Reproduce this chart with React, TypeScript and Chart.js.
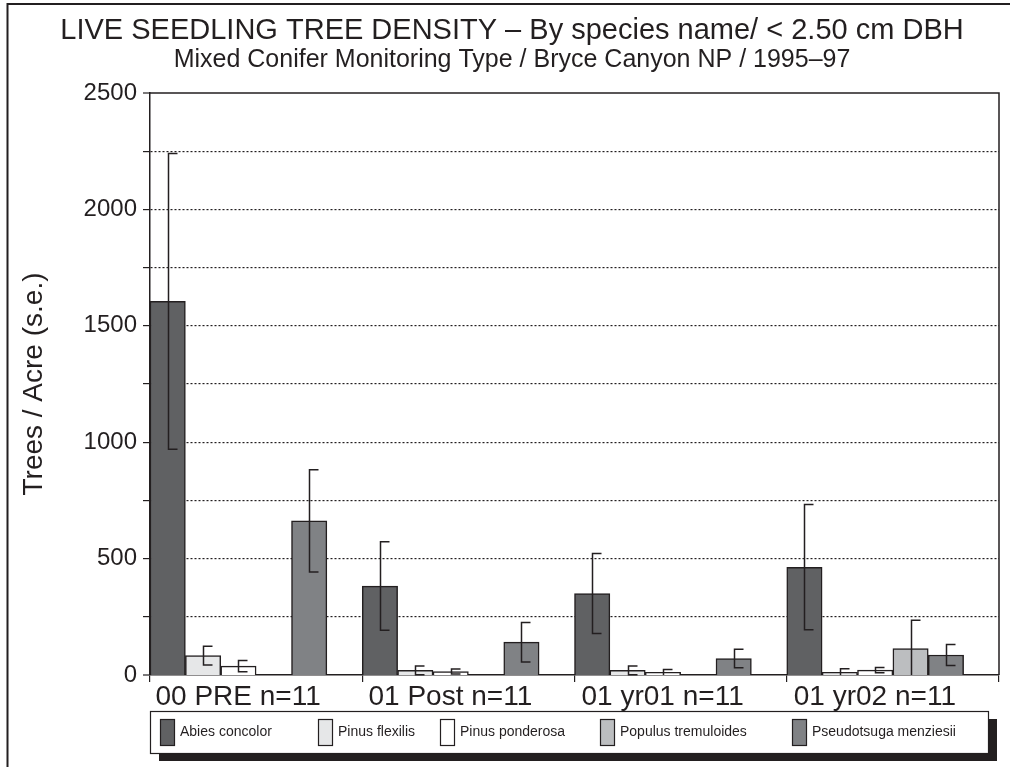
import React, { useEffect, useRef } from "react";
import { Chart, registerables } from "chart.js";

Chart.register(...registerables);

// ---------- data ----------
const categories = ["00 PRE n=11", "01 Post n=11", "01 yr01 n=11", "01 yr02 n=11"];
const speciesNames = [
  "Abies concolor",
  "Pinus flexilis",
  "Pinus ponderosa",
  "Populus tremuloides",
  "Pseudotsuga menziesii",
];
const abiesConcolor = [1605, 382, 350, 463];
const abiesConcolorSE = [635, 190, 172, 269];
const pinusFlexilis = [83, 20, 20, 12];
const pinusFlexilisSE = [40, 19, 19, 15];
const pinusPonderosa = [38, 15, 12, 21];
const pinusPonderosaSE = [24, 11, 12, 11];
const populusTremuloides = [0, 0, 0, 113];
const populusTremuloidesSE = [0, 0, 0, 122];
const pseudotsugaMenziesii = [662, 141, 71, 86];
const pseudotsugaMenziesiiSE = [220, 85, 40, 45];
const yMax = 2500;
const yStep = 250;
const yLabelStep = 500;

const seriesValues = [abiesConcolor, pinusFlexilis, pinusPonderosa, populusTremuloides, pseudotsugaMenziesii];
const seriesSE = [abiesConcolorSE, pinusFlexilisSE, pinusPonderosaSE, populusTremuloidesSE, pseudotsugaMenziesiiSE];
const seriesColors = ["#606163", "#e6e7e8", "#ffffff", "#bcbec0", "#808285"];

const INK = "#231f20";
const FONT = "'Liberation Sans', Arial, Helvetica, sans-serif";

const errorBarPlugin = {
  id: "errorBars",
  afterDatasetsDraw(chart: any) {
    const ctx = chart.ctx;
    const y = chart.scales.y;
    seriesSE.forEach((se, di) => {
      const meta = chart.getDatasetMeta(di);
      meta.data.forEach((bar: any, i: number) => {
        const s = se[i];
        if (!s) return;
        const v = seriesValues[di][i];
        const x = Math.round(bar.x) + 0.5;
        const yTop = y.getPixelForValue(v + s);
        const low = v - s;
        const yBot = y.getPixelForValue(Math.max(0, low));
        ctx.save();
        ctx.strokeStyle = INK;
        ctx.lineWidth = 1.5;
        ctx.beginPath();
        ctx.moveTo(x, yBot);
        ctx.lineTo(x, yTop);
        ctx.moveTo(x - 0.75, yTop);
        ctx.lineTo(x + 9, yTop);
        if (low > 0) {
          ctx.moveTo(x - 0.75, yBot);
          ctx.lineTo(x + 9, yBot);
        }
        ctx.stroke();
        ctx.restore();
      });
    });
  },
};

const legendItemX = [160, 318, 440, 600, 792];

const framePlugin = {
  id: "frameAndLegend",
  afterDraw(chart: any) {
    const ctx = chart.ctx;
    const a = chart.chartArea;
    ctx.save();
    // plot frame (top/right)
    ctx.strokeStyle = INK;
    ctx.lineWidth = 1.5;
    ctx.beginPath();
    ctx.moveTo(a.left, a.top);
    ctx.lineTo(a.right, a.top);
    ctx.lineTo(a.right, a.bottom);
    ctx.stroke();
    // outer figure frame
    ctx.lineWidth = 2;
    ctx.beginPath();
    ctx.moveTo(7.5, 767);
    ctx.lineTo(7.5, 4);
    ctx.lineTo(1010, 4);
    ctx.stroke();
    // legend with shadow
    const bx = 150, by = 711, bw = 838, bh = 42;
    ctx.fillStyle = INK;
    ctx.fillRect(bx + 9, by + 8, bw, bh);
    ctx.fillStyle = "#ffffff";
    ctx.fillRect(bx, by, bw, bh);
    ctx.lineWidth = 1.2;
    ctx.strokeStyle = INK;
    ctx.strokeRect(bx + 0.5, by + 0.5, bw, bh);
    ctx.font = `14px ${FONT}`;
    ctx.textBaseline = "middle";
    ctx.textAlign = "left";
    speciesNames.forEach((name, i) => {
      const sx = legendItemX[i];
      ctx.fillStyle = seriesColors[i];
      ctx.fillRect(sx, by + 8, 14, 26);
      ctx.strokeStyle = INK;
      ctx.lineWidth = 1.2;
      ctx.strokeRect(sx + 0.5, by + 8.5, 14, 26);
      ctx.fillStyle = INK;
      ctx.fillText(name, sx + 20, by + bh / 2);
    });
    ctx.restore();
  },
};

export default function App() {
  const ref = useRef<HTMLCanvasElement | null>(null);

  useEffect(() => {
    if (!ref.current) return;
    const datasets: any[] = speciesNames.map((name, i) => ({
      label: name,
      data: seriesValues[i],
      backgroundColor: seriesColors[i],
      borderColor: INK,
      borderWidth: 1.5,
      barPercentage: 1,
      categoryPercentage: 1,
    }));
    // empty spacer slot to leave the gap after each group
    datasets.push({
      label: "",
      data: categories.map(() => null),
      backgroundColor: "rgba(0,0,0,0)",
      borderWidth: 0,
      barPercentage: 1,
      categoryPercentage: 1,
    });

    const chart = new Chart(ref.current, {
      type: "bar",
      data: { labels: categories, datasets },
      plugins: [errorBarPlugin, framePlugin],
      options: {
        animation: false,
        responsive: false,
        layout: { padding: { left: 14, right: 0, top: 0, bottom: 0 } },
        plugins: {
          legend: { display: false },
          tooltip: { enabled: false },
          title: {
            display: true,
            text: "LIVE SEEDLING TREE DENSITY – By species name/ < 2.50 cm DBH",
            color: INK,
            font: { family: FONT, size: 29, weight: "normal", lineHeight: 1.0 },
            padding: { top: 16, bottom: 0 },
          },
          subtitle: {
            display: true,
            text: "Mixed Conifer Monitoring Type / Bryce Canyon NP / 1995–97",
            color: INK,
            font: { family: FONT, size: 25, weight: "normal", lineHeight: 1.2 },
            padding: { top: 0, bottom: 18 },
          },
        },
        scales: {
          x: {
            afterFit: (s: any) => {
              s.height = 92;
            },
            ticks: {
              color: INK,
              font: { family: FONT, size: 28 },
              labelOffset: -18,
              padding: -2,
              maxRotation: 0,
              autoSkip: false,
            },
            grid: {
              offset: true,
              drawOnChartArea: false,
              drawTicks: true,
              tickLength: 7,
              color: INK,
              lineWidth: 1.2,
            },
            border: { display: true, color: INK, width: 1.5 },
          },
          y: {
            min: 0,
            max: yMax,
            afterFit: (s: any) => {
              s.width = 136;
            },
            ticks: {
              stepSize: yStep,
              color: INK,
              font: { family: FONT, size: 24 },
              padding: 6,
              callback: (v: any) => (Number(v) % yLabelStep === 0 ? String(v) : ""),
            },
            grid: {
              color: INK,
              lineWidth: (c: any) =>
                c.tick && (c.tick.value === 0 || c.tick.value === yMax) ? 0 : 1.2,
              tickLength: 7,
              tickWidth: 1.2,
              tickColor: INK,
            },
            border: { display: true, color: INK, width: 1.5, dash: [2, 2] },
            title: {
              display: true,
              text: "Trees / Acre (s.e.)",
              color: INK,
              font: { family: FONT, size: 28 },
              padding: { top: 3, bottom: 0 },
            },
          },
          yRight: {
            position: "right",
            display: true,
            afterFit: (s: any) => {
              s.width = 11;
            },
            ticks: { display: false },
            grid: { display: false },
            border: { display: false },
          },
        },
      } as any,
    });
    return () => chart.destroy();
  }, []);

  return (
    <div style={{ position: "absolute", left: 0, top: 0, width: 1010, height: 767, background: "#fff" }}>
      <canvas ref={ref} width={1010} height={767} style={{ display: "block" }} />
    </div>
  );
}
